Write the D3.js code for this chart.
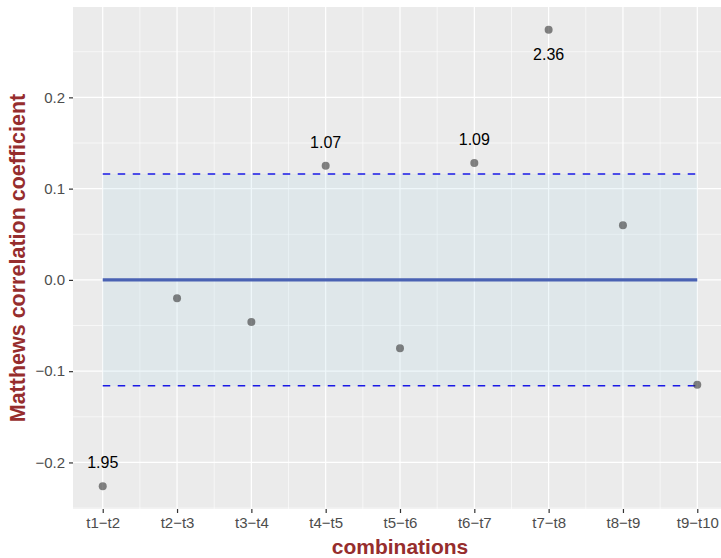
<!DOCTYPE html>
<html lang="en">
<head>
  <meta charset="UTF-8">
  <title>Matthews correlation coefficient</title>
  <script src="https://d3js.org/d3.v7.min.js"></script>
  <style>
    body { margin: 0; background: #fff; }
    svg { display: block; font-family: "Liberation Sans", Arial, sans-serif; }
  </style>
</head>
<body>
  <div id="chart"></div>
  <script>
    // data
    const combinations = ["t1\u2212t2", "t2\u2212t3", "t3\u2212t4", "t4\u2212t5", "t5\u2212t6", "t6\u2212t7", "t7\u2212t8", "t8\u2212t9", "t9\u2212t10"];
    const mcc = [-0.226, -0.020, -0.046, 0.125, -0.075, 0.128, 0.274, 0.060, -0.115];
    // labelled points: index, text, above (1) or below (-1)
    const labelIdx = [0, 3, 5, 6];
    const labelText = ["1.95", "1.07", "1.09", "2.36"];
    const labelSide = [1, 1, 1, -1];
    const threshold = 0.116;
    const yTicks = [-0.2, -0.1, 0.0, 0.1, 0.2];
    const yMinor = [-0.25, -0.15, -0.05, 0.05, 0.15, 0.25];

    const W = 721, H = 558;
    // the panel runs a little past the right edge of the picture
    const m = { left: 73, right: -6, top: 7, bottom: 49 };

    const svg = d3.select("#chart").append("svg")
      .attr("width", W).attr("height", H);

    const n = combinations.length;
    const x = d3.scaleLinear().domain([0.6, n + 0.4]).range([m.left, W - m.right]);
    const y = d3.scaleLinear().domain([-0.251, 0.299]).range([H - m.bottom, m.top]);

    // panel
    svg.append("rect")
      .attr("x", m.left).attr("y", m.top)
      .attr("width", W - m.right - m.left).attr("height", H - m.bottom - m.top)
      .attr("fill", "#ebebeb");

    const grid = svg.append("g");
    // minor grid
    grid.selectAll(".ym").data(yMinor).enter().append("line")
      .attr("x1", m.left).attr("x2", W - m.right)
      .attr("y1", d => y(d)).attr("y2", d => y(d))
      .attr("stroke", "#fff").attr("stroke-width", 0.6);
    grid.selectAll(".xm").data(d3.range(1.5, n, 1)).enter().append("line")
      .attr("y1", m.top).attr("y2", H - m.bottom)
      .attr("x1", d => x(d)).attr("x2", d => x(d))
      .attr("stroke", "#fff").attr("stroke-width", 0.6);
    // major grid
    grid.selectAll(".yM").data(yTicks).enter().append("line")
      .attr("x1", m.left).attr("x2", W - m.right)
      .attr("y1", d => y(d)).attr("y2", d => y(d))
      .attr("stroke", "#fff").attr("stroke-width", 1.2);
    grid.selectAll(".xM").data(d3.range(1, n + 1)).enter().append("line")
      .attr("y1", m.top).attr("y2", H - m.bottom)
      .attr("x1", d => x(d)).attr("x2", d => x(d))
      .attr("stroke", "#fff").attr("stroke-width", 1.2);

    // threshold band
    svg.append("rect")
      .attr("x", x(1)).attr("width", x(n) - x(1))
      .attr("y", y(threshold)).attr("height", y(-threshold) - y(threshold))
      .attr("fill", "#add8e6").attr("fill-opacity", 0.2);

    // dashed thresholds
    svg.selectAll(".thr").data([threshold, -threshold]).enter().append("line")
      .attr("x1", x(1)).attr("x2", x(n))
      .attr("y1", d => y(d)).attr("y2", d => y(d))
      .attr("stroke", "#1a1ae6").attr("stroke-width", 1.4)
      .attr("stroke-dasharray", "7.5,7.5");

    // zero line
    svg.append("line")
      .attr("x1", x(1)).attr("x2", x(n))
      .attr("y1", y(0)).attr("y2", y(0))
      .attr("stroke", "#4a62b3").attr("stroke-width", 3.2);

    // points
    svg.selectAll(".pt").data(mcc).enter().append("circle")
      .attr("cx", (d, i) => x(i + 1)).attr("cy", d => y(d))
      .attr("r", 4).attr("fill", "#333").attr("fill-opacity", 0.6);

    // labels
    svg.selectAll(".lab").data(labelIdx).enter().append("text")
      .attr("x", d => x(d + 1))
      .attr("y", (d, i) => y(mcc[d]) - labelSide[i] * 24 + 6)
      .attr("text-anchor", "middle")
      .attr("font-size", 16).attr("fill", "#000")
      .text((d, i) => labelText[i]);

    // axes
    const xAxis = d3.axisBottom(x).tickValues(d3.range(1, n + 1))
      .tickFormat(d => combinations[d - 1]).tickSize(4).tickPadding(4);
    const gx = svg.append("g").attr("transform", `translate(0,${H - m.bottom})`).call(xAxis);
    const yAxis = d3.axisLeft(y).tickValues(yTicks)
      .tickFormat(d => d3.format(".1f")(d).replace("-", "\u2212")).tickSize(4).tickPadding(4);
    const gy = svg.append("g").attr("transform", `translate(${m.left},0)`).call(yAxis);
    [gx, gy].forEach(g => {
      g.select(".domain").remove();
      g.selectAll(".tick line").attr("stroke", "#333").attr("stroke-width", 1.2);
      g.selectAll(".tick text").attr("fill", "#4d4d4d").attr("font-size", 15)
        .attr("font-family", "Liberation Sans, Arial, sans-serif");
    });

    // titles
    svg.append("text")
      .attr("x", (m.left + W - m.right) / 2).attr("y", 554)
      .attr("text-anchor", "middle").attr("font-size", 21).attr("font-weight", "bold")
      .attr("fill", "#962d2d").text("combinations");
    svg.append("text")
      .attr("transform", `translate(25,${(m.top + H - m.bottom) / 2}) rotate(-90)`)
      .attr("text-anchor", "middle").attr("font-size", 21.5).attr("font-weight", "bold")
      .attr("fill", "#962d2d").text("Matthews correlation coefficient");
  </script>
</body>
</html>
